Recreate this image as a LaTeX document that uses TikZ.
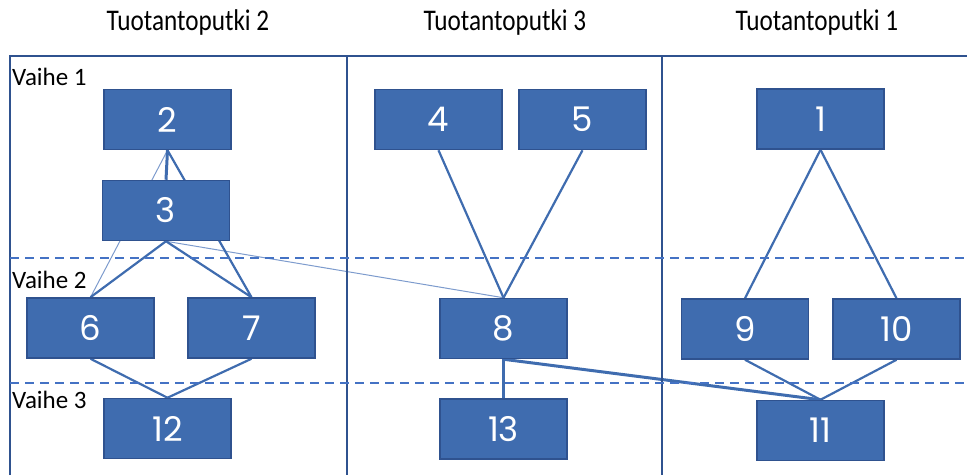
\documentclass[tikz,border=0pt]{standalone}
\usepackage{fontspec}
\setmainfont{Carlito}
\newfontfamily\numfont{Poppins}
\usetikzlibrary{backgrounds}
\definecolor{boxfill}{RGB}{63,108,175}
\definecolor{boxline}{RGB}{47,82,143}
\definecolor{linkblue}{RGB}{63,108,175}
\definecolor{lightlink}{RGB}{125,155,205}
\definecolor{dashblue}{RGB}{68,114,196}
\newcommand{\headtext}[1]{\scalebox{0.84}[1]{#1}}
\begin{document}
\begin{tikzpicture}[x=1pt, y=-1pt,
                box_style/.style={rectangle, draw=boxline, line width=1.5pt, fill=boxfill, text=white,
                  minimum width=127pt, minimum height=60pt, inner sep=0pt, font=\numfont\fontsize{34}{36}\selectfont},
                edge_style/.style={draw=linkblue, line width=2.2pt}]
                \tikzset{thin edge/.style={draw=lightlink, line width=1pt},
                  heavy edge/.style={draw=linkblue, line width=3pt},
                  head/.style={font=\fontsize{30}{32}\selectfont},
                  phase/.style={font=\fontsize{25}{27}\selectfont, anchor=west, inner sep=0pt}}
                \useasboundingbox (0,0) rectangle (967,475);
                % frame
                \draw [boxline, line width=1.6pt] (10,475) -- (10,56) -- (967,56);
                \draw [boxline, line width=1.6pt] (347,56) -- (347,475);
                \draw [boxline, line width=1.6pt] (662,56) -- (662,475);
                \draw [dashblue, line width=1.3pt, dash pattern=on 9pt off 6pt] (10,258) -- (967,258);
                \draw [dashblue, line width=1.3pt, dash pattern=on 9pt off 6pt] (10,383) -- (967,383);
                \node [head] (h2) at (188,22) {\headtext{Tuotantoputki 2}};
                \node [head] (h3) at (505,22) {\headtext{Tuotantoputki 3}};
                \node [head] (h1) at (817,22) {\headtext{Tuotantoputki 1}};
                \node [phase] (p1) at (12,77) {Vaihe 1};
                \node [phase] (p2) at (12,280) {Vaihe 2};
                \node [phase] (p3) at (12,400) {Vaihe 3};
                % tasks
                \node [box_style] (t2) at (167.5,119.5) {2};
                \node [box_style] (t3) at (166,210.5) {3};
                \node [box_style] (t4) at (438.5,119.5) {4};
                \node [box_style] (t5) at (582.5,119.5) {5};
                \node [box_style] (t1) at (820.5,119) {1};
                \node [box_style] (t6) at (90.5,328) {6};
                \node [box_style] (t7) at (251.5,328) {7};
                \node [box_style] (t8) at (503.5,328.5) {8};
                \node [box_style] (t9) at (745,329) {9};
                \node [box_style] (t10) at (896.5,329) {10};
                \node [box_style] (t12) at (167.5,428.5) {12};
                \node [box_style] (t13) at (503.5,429) {13};
                \node [box_style] (t11) at (820.5,430.5) {11};
                \begin{pgfonlayer}{background}
                \draw [thin edge] (t2.south) -- (t6.north);
                \draw [thin edge] (t3.south) -- (t8.north);
                \draw [heavy edge] (t2.south) -- (t3.north);
                \draw [edge_style] (t2.south) -- (t7.north);
                \draw [edge_style] (t3.south) -- (t6.north);
                \draw [edge_style] (t3.south) -- (t7.north);
                \draw [edge_style] (t4.south) -- (t8.north);
                \draw [edge_style] (t5.south) -- (t8.north);
                \draw [edge_style] (t1.south) -- (t9.north);
                \draw [edge_style] (t1.south) -- (t10.north);
                \draw [edge_style] (t6.south) -- (t12.north);
                \draw [edge_style] (t7.south) -- (t12.north);
                \draw [edge_style] (t8.south) -- (t13.north);
                \draw [heavy edge] (t8.south) -- (t11.north);
                \draw [edge_style] (t9.south) -- (t11.north);
                \draw [edge_style] (t10.south) -- (t11.north);
                \end{pgfonlayer}
            \end{tikzpicture}
\end{document}
